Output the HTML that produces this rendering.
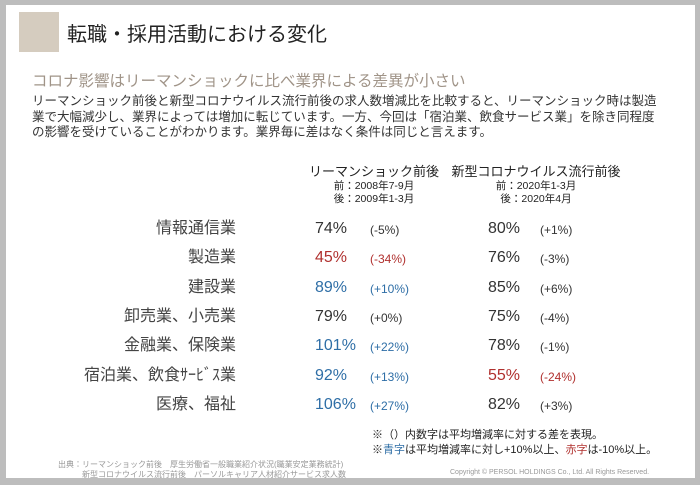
<!DOCTYPE html>
<html><head><meta charset="utf-8">
<style>
body{margin:0;width:700px;height:485px;background:#bdbdbd;font-family:"Liberation Sans","Noto Sans CJK JP",sans-serif;position:relative;overflow:hidden}
.card{position:absolute;left:6px;top:5px;width:689px;height:473px;background:#fff}
.abs{position:absolute;white-space:nowrap}
.lab{font-size:16px;color:#444;text-align:right;width:200px;line-height:20px}
.val{font-size:16px;line-height:20px}
.dif{font-size:12px;line-height:20px}
</style></head><body>
<div class="card"></div>
<div class="abs" style="left:19px;top:12px;width:40px;height:40px;background:#d5ccbf"></div>
<div class="abs" style="left:67px;top:18px;font-size:20px;color:#222">転職・採用活動における変化</div>
<div class="abs" style="left:32px;top:72px;font-size:15.5px;color:#a09488;line-height:20px">コロナ影響はリーマンショックに比べ業界による差異が小さい</div>
<div class="abs" style="left:32px;top:94px;font-size:12.5px;color:#333;line-height:15.5px">リーマンショック前後と新型コロナウイルス流行前後の求人数増減比を比較すると、リーマンショック時は製造<br>業で大幅減少し、業界によっては増加に転じています。一方、今回は「宿泊業、飲食サービス業」を除き同程度<br>の影響を受けていることがわかります。業界毎に差はなく条件は同じと言えます。</div>
<div class="abs" style="left:296px;top:163px;font-size:13px;color:#222;text-align:center;width:156px;line-height:17px">リーマンショック前後<br><span style="font-size:10.5px;line-height:13px;display:block">前：2008年7-9月<br>後：2009年1-3月</span></div>
<div class="abs" style="left:451px;top:163px;font-size:13px;color:#222;text-align:center;width:170px;line-height:17px">新型コロナウイルス流行前後<br><span style="font-size:10.5px;line-height:13px;display:block">前：2020年1-3月<br>後：2020年4月</span></div>
<div id="rows"></div>
<div class="abs" style="left:372px;top:428px;font-size:11px;color:#222;line-height:15px">※（）内数字は平均増減率に対する差を表現。<br>※<span style="color:#2e6ea6">青字</span>は平均増減率に対し+10%以上、<span style="color:#b0302e">赤字</span>は-10%以上。</div>
<div class="abs" style="left:58px;top:460px;font-size:8px;color:#999;line-height:10px">出典：リーマンショック前後　厚生労働省一般職業紹介状況(職業安定業務統計)<br>　　　新型コロナウイルス流行前後　パーソルキャリア人材紹介サービス求人数</div>
<div class="abs" style="left:450px;top:469px;font-size:7px;color:#999">Copyright © PERSOL HOLDINGS Co., Ltd. All Rights Reserved.</div>
<script>
const categories=["情報通信業","製造業","建設業","卸売業、小売業","金融業、保険業","宿泊業、飲食ｻｰﾋﾞｽ業","医療、福祉"];
const lehmanValues=[74,45,89,79,101,92,106];
const lehmanDiffs=[-5,-34,10,0,22,13,27];
const coronaValues=[80,76,85,75,78,55,82];
const coronaDiffs=[1,-3,6,-4,-1,-24,3];
const rowY=i=>229+i*29.3;
const col=d=>d>=10?"#2e6ea6":(d<=-10?"#b0302e":"#333");
const fmt=d=>"("+(d>=0?"+":"")+d+"%)";
const R=document.getElementById('rows');
function add(cls,left,top,text,color,name){
 const e=document.createElement('div');
 e.className='abs '+cls;e.style.left=left+'px';e.style.top=top+'px';e.textContent=text;
 if(color)e.style.color=color;
 
 
 R.appendChild(e);
}
categories.forEach((c,i)=>{
 const y=rowY(i)-10;
 add('lab',36,y,c,null,'industry-label');
 add('val',315,y,lehmanValues[i]+'%',col(lehmanDiffs[i]),'lehman-value');
 add('dif',370,y+1,fmt(lehmanDiffs[i]),col(lehmanDiffs[i]),'lehman-diff');
 add('val',488,y,coronaValues[i]+'%',col(coronaDiffs[i]),'corona-value');
 add('dif',540,y+1,fmt(coronaDiffs[i]),col(coronaDiffs[i]),'corona-diff');
});
</script>
</body></html>
